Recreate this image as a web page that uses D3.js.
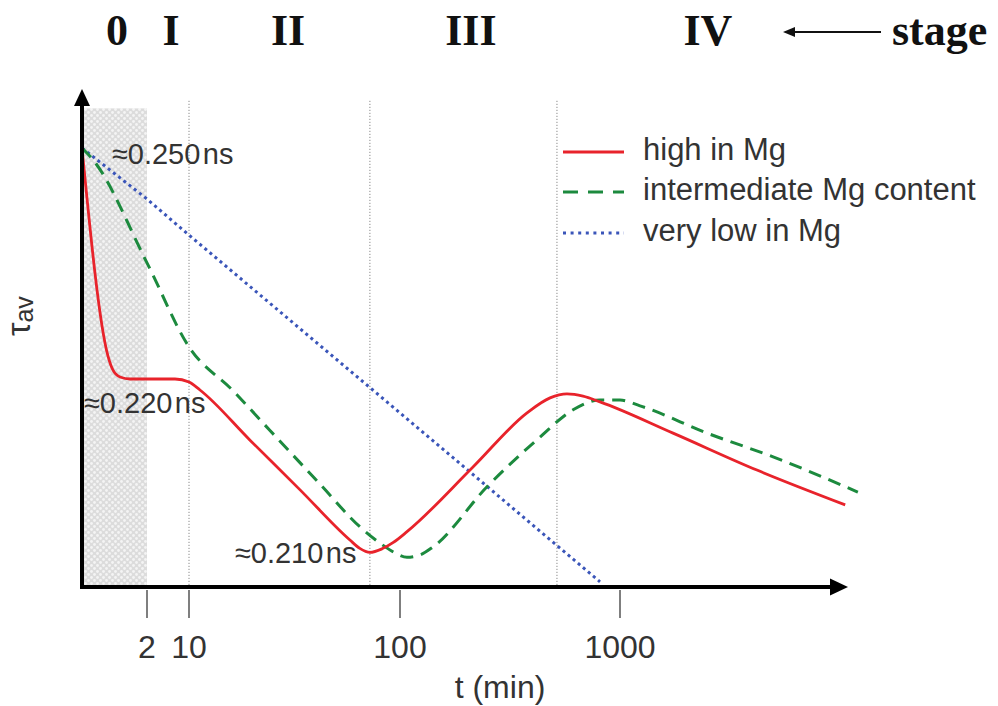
<!DOCTYPE html>
<html>
<head>
<meta charset="utf-8">
<script src="https://cdn.jsdelivr.net/npm/d3@7"></script>
<style>
  html, body { margin: 0; padding: 0; background: #fff; }
  svg { display: block; }
</style>
</head>
<body>
<svg id="chart" width="998" height="706"></svg>
<script>
// ---------- data ----------
// time axis (minutes) — schematic axis: linear from 0 to 10, logarithmic beyond
const tickValues = [2, 10, 100, 1000];
const tickLabels = ["2", "10", "100", "1000"];
// stage labels, their centre times and the stage boundaries (dotted verticals)
const stageNames = ["0", "I", "II", "III", "IV"];
const stageCenters = [1.08, 6.6, 29.5, 210, 2510];
const stageBounds = [10, 72, 517];   // dotted lines; stage 0 (0–2 min) is shaded
const shadeEnd = 2;

// average lifetime tau_av, schematic (arbitrary units, 100 = ≈0.250 ns start level)
const highT = [0, 0.8, 0.954, 1.17, 1.48, 2, 7.33, 10, 11.27, 19.46, 33.6, 57.9, 64.5, 72, 82.2, 92.6, 107.6, 214.7, 378, 481, 574, 679, 811, 1742, 4191, 10560];
const highV = [100, 52.7, 49.5, 47.95, 47.5, 47.5, 47.5, 46.8, 45, 33.6, 22.3, 10.9, 9.0, 8.1, 8.9, 10.3, 12.8, 27.5, 39.8, 43.2, 44.1, 43.6, 42.3, 35.2, 26.8, 18.9];

const interT = [0, 0.34, 2, 10, 16.2, 24.2, 41.8, 64.6, 80.4, 94.5, 107.6, 123, 141, 248.6, 433, 612, 811, 1000, 1233, 2486, 4966, 12060];
const interV = [100, 97.3, 73.9, 54.8, 44.8, 35.8, 23.6, 13.9, 10.2, 8.0, 7.0, 7.5, 9.3, 23.0, 34.3, 40.5, 42.7, 42.7, 41.4, 35.2, 29.8, 21.8];

const lowT = [0, 2, 10, 100, 811];
const lowV = [100, 88.4, 80.2, 39.8, 1.4];

const seriesNames = ["high in Mg", "intermediate Mg content", "very low in Mg"];
const seriesColors = ["#e8232b", "#1c8a3e", "#3a55b9"];

// annotations: [text, t, value]
const annoText = ["\u22480.250\u200Ans", "\u22480.220\u200Ans", "\u22480.210\u200Ans"];
const annoT = [0.92, 0.06, 16.5];
const annoV = [96.3, 39.8, 5.7];

// ---------- scales ----------
const xLin = d3.scaleLinear().domain([0, 2, 10]).range([82, 147, 189]);
const xLog = d3.scaleLog().domain([10, 100, 1000]).range([189, 400, 620]);
const x = t => (t < 10 ? xLin(t) : xLog(t));
const y = d3.scaleLinear().domain([0, 100]).range([588, 148]);

const svg = d3.select("#chart");
const SANS = "'Liberation Sans', Arial, Helvetica, sans-serif";
const SERIF = "'Liberation Serif', 'Times New Roman', serif";

// stipple pattern for stage 0
const defs = svg.append("defs");
const pat = defs.append("pattern").attr("id", "stip").attr("patternUnits", "userSpaceOnUse")
  .attr("width", 6).attr("height", 6);
pat.append("rect").attr("width", 6).attr("height", 6).attr("fill", "#dcdcdc");
pat.append("circle").attr("cx", 1.5).attr("cy", 1.5).attr("r", 1.4).attr("fill", "#f4f4f4");
pat.append("circle").attr("cx", 4.5).attr("cy", 4.5).attr("r", 1.4).attr("fill", "#f4f4f4");

svg.append("rect")
  .attr("x", x(0)).attr("y", y(109))
  .attr("width", x(shadeEnd) - x(0)).attr("height", y(0) - y(109))
  .attr("fill", "url(#stip)");

// stage boundary dotted lines
svg.append("g").selectAll("line").data(stageBounds).join("line")
  .attr("x1", d => x(d)).attr("x2", d => x(d))
  .attr("y1", y(0)).attr("y2", y(111))
  .attr("stroke", "#8a8a8a").attr("stroke-width", 1)
  .attr("stroke-dasharray", "1.2,1.8");

// ---------- series ----------
const line = d3.line().x(d => x(d[0])).y(d => y(d[1]));
const zip = (a, b) => a.map((v, i) => [v, b[i]]);

svg.append("path").datum(zip(lowT, lowV))
  .attr("d", line.curve(d3.curveLinear))
  .attr("fill", "none").attr("stroke", seriesColors[2]).attr("stroke-width", 3)
  .attr("stroke-dasharray", "3,3.6");

svg.append("path").datum(zip(interT, interV))
  .attr("d", line.curve(d3.curveMonotoneX))
  .attr("fill", "none").attr("stroke", seriesColors[1]).attr("stroke-width", 3)
  .attr("stroke-dasharray", "13,8");

svg.append("path").datum(zip(highT, highV))
  .attr("d", line.curve(d3.curveMonotoneX))
  .attr("fill", "none").attr("stroke", seriesColors[0]).attr("stroke-width", 2.8)
  .attr("stroke-linejoin", "round");

// ---------- axes ----------
const ax = svg.append("g");
ax.append("line").attr("x1", x(0)).attr("x2", x(0)).attr("y1", y(0) + 1).attr("y2", 104)
  .attr("stroke", "#000").attr("stroke-width", 4);
ax.append("path").attr("d", `M${x(0)},89 L${x(0) - 8},106 L${x(0) + 8},106 Z`).attr("fill", "#000");
ax.append("line").attr("x1", x(0) - 2).attr("x2", 832).attr("y1", 587).attr("y2", 587)
  .attr("stroke", "#000").attr("stroke-width", 4);
ax.append("path").attr("d", `M848,587 L830,578.5 L830,595.5 Z`).attr("fill", "#000");

// ticks
const tk = svg.append("g");
tk.selectAll("line").data(tickValues).join("line")
  .attr("x1", d => x(d)).attr("x2", d => x(d)).attr("y1", 590).attr("y2", 618)
  .attr("stroke", "#555").attr("stroke-width", 1.5);
tk.selectAll("text").data(tickValues).join("text")
  .attr("x", d => x(d)).attr("y", 658).attr("text-anchor", "middle")
  .attr("font-family", SANS).attr("font-size", 32).attr("fill", "#333")
  .text((d, i) => tickLabels[i]);

svg.append("text").attr("x", 500).attr("y", 698).attr("text-anchor", "middle")
  .attr("font-family", SANS).attr("font-size", 32).attr("fill", "#333").text("t (min)");

// y label tau_av
const yl = svg.append("text").attr("transform", "translate(30,336) rotate(-90)")
  .attr("font-family", SANS).attr("fill", "#333");
yl.append("tspan").attr("font-size", 34).text("\u03C4");
yl.append("tspan").attr("font-size", 25).attr("dy", 3).text("av");

// annotations
svg.append("g").selectAll("text").data(annoText).join("text")
  .attr("x", (d, i) => x(annoT[i])).attr("y", (d, i) => y(annoV[i]))
  .attr("font-family", SANS).attr("font-size", 29).attr("fill", "#333")
  .text(d => d);

// stage labels
svg.append("g").selectAll("text").data(stageNames).join("text")
  .attr("x", (d, i) => x(stageCenters[i])).attr("y", 45).attr("text-anchor", "middle")
  .attr("font-family", SERIF).attr("font-weight", "bold").attr("font-size", 44).attr("fill", "#111")
  .text(d => d);
svg.append("line").attr("x1", 792).attr("x2", 881).attr("y1", 32).attr("y2", 32)
  .attr("stroke", "#111").attr("stroke-width", 2.2);
svg.append("path").attr("d", "M783,32 L795,27 L795,37 Z").attr("fill", "#111");
svg.append("text").attr("x", 892).attr("y", 45)
  .attr("font-family", SERIF).attr("font-weight", "bold").attr("font-size", 44).attr("fill", "#111")
  .text("stage");

// legend
const lg = svg.append("g");
const legY = [152, 192, 233];
const legDash = [null, "15,10", "3,4.6"];
const legW = [2.8, 3, 3];
seriesNames.forEach((name, i) => {
  lg.append("line").attr("x1", 563).attr("x2", 624).attr("y1", legY[i]).attr("y2", legY[i])
    .attr("stroke", seriesColors[i]).attr("stroke-width", legW[i])
    .attr("stroke-dasharray", legDash[i]);
  lg.append("text").attr("x", 643).attr("y", legY[i] + 8)
    .attr("font-family", SANS).attr("font-size", 31).attr("fill", "#333").text(name);
});
</script>
</body>
</html>
